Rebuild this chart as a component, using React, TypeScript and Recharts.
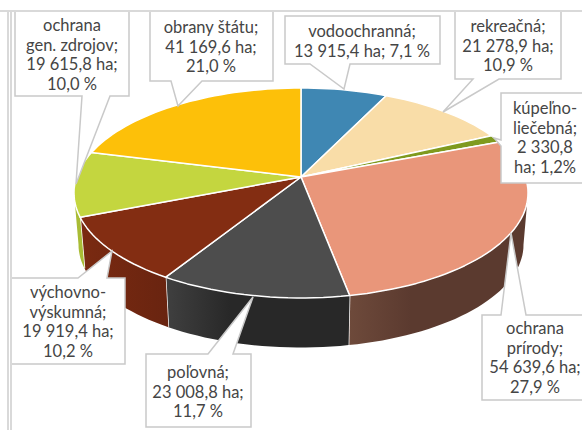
import { Pie, PieChart } from 'recharts';

const CATEGORIES = ['vodoochranná', 'rekreačná', 'kúpeľno-liečebná', 'ochrana prírody', 'poľovná', 'výchovno-výskumná', 'ochrana gen. zdrojov', 'obrany štátu'];
const AREAS_HA = [13915.4, 21278.9, 2330.8, 54639.6, 23008.8, 19919.4, 19615.8, 41169.6];

const LABEL_LINES = [
    ['vodoochranná;', '13 915,4 ha; 7,1 %'],
    ['rekreačná;', '21 278,9 ha;', '10,9 %'],
    ['kúpeľno-', 'liečebná;', '2 330,8', 'ha; 1,2%'],
    ['ochrana', 'prírody;', '54 639,6 ha;', '27,9 %'],
    ['poľovná;', '23 008,8 ha;', '11,7 %'],
    ['výchovno-', 'výskumná;', '19 919,4 ha;', '10,2 %'],
    ['ochrana', 'gen. zdrojov;', '19 615,8 ha;', '10,0 %'],
    ['obrany štátu;', '41 169,6 ha;', '21,0 %'],
];

const TOP_COLORS = ['#3F87B3', '#F9DDA8', '#7F9A1E', '#E9967A', '#4D4D4D', '#832D12', '#C4D63F', '#FDC009'];
const WALL_COLORS = [
    ['#2F6585', '#2F6585'],
    ['#B9A47C', '#B9A47C'],
    ['#5E7216', '#5E7216'],
    ['#6E4A3B', '#5B3A2F'],
    ['#404040', '#282828'],
    ['#7A2A11', '#692410'],
    ['#A9BC35', '#A9BC35'],
    ['#BD8F07', '#BD8F07'],
];

// callout boxes: x, y, w, h, text centre, first baseline, pointer base (2 points on box edge) and tip
const CALLOUTS = [
    { x: 285, y: 16, w: 155, h: 48, tx: 362, ty: 37, base: [350, 310], tip: [344, 89] },
    { x: 455, y: 11, w: 106, h: 68, tx: 508, ty: 32, base: [499, 473], tip: [443, 112] },
    { x: 501, y: 93, w: 90, h: 90, tx: 545, ty: 114, base: [], tip: [494, 138] },
    { x: 482, y: 315, w: 110, h: 85, tx: 535, ty: 334, base: [501, 526], tip: [511, 233] },
    { x: 146, y: 354, w: 105, h: 73, tx: 198, ty: 378, base: [208, 233], tip: [253, 297] },
    { x: 11, y: 278, w: 114, h: 86, tx: 68, ty: 298, base: [78, 107], tip: [112, 251] },
    { x: 15, y: 11, w: 114, h: 85, tx: 72, ty: 31, base: [110, 82], tip: [76, 184] },
    { x: 150, y: 11, w: 123, h: 70, tx: 211, ty: 33, base: [202, 171], tip: [178, 106] },
];

const pieData = CATEGORIES.map((name, i) => ({ name, value: AREAS_HA[i] }));

// perspective of the tilted disc
const TILT = 0.152;
const FLAT = 0.457;
const DEPTH = 52;
const RAD = Math.PI / 180;

const project = (cx: number, cy: number, r: number, angle: number, low = false) => {
    // recharts angle: 90 = top, decreasing clockwise
    const th = (90 - angle) * RAD;
    const w = 1 + TILT * Math.cos(th);
    const k = low ? 0.98 : 1;
    return {
        x: cx + (k * r * Math.sin(th)) / w,
        y: cy - (k * r * FLAT * Math.cos(th)) / w + (low ? DEPTH : 0),
    };
};

const steps = (a: number, b: number) => {
    const n = Math.max(2, Math.ceil(Math.abs(a - b) / 2));
    return Array.from({ length: n + 1 }, (_, i) => a + ((b - a) * i) / n);
};

const pts = (list: { x: number; y: number }[]) => list.map((p) => `${p.x.toFixed(1)},${p.y.toFixed(1)}`).join(' ');

const TopSlice = (props: any) => {
    const { cx, cy, outerRadius, startAngle, endAngle, index } = props;
    const rim = steps(startAngle, endAngle).map((a) => project(cx, cy, outerRadius, a));
    return <polygon points={pts([{ x: cx, y: cy }, ...rim])} fill={TOP_COLORS[index]} stroke="#fff" strokeWidth={1.5} strokeLinejoin="round" />;
};

// the wall only shows between the two tangent points of the rim
const TANGENT = Math.acos(-TILT) / RAD;

const WallSlice = (props: any) => {
    const { cx, cy, outerRadius, startAngle, endAngle, index } = props;
    const a = Math.max(90 - startAngle, TANGENT);
    const b = Math.min(90 - endAngle, 360 - TANGENT);
    if (a >= b) return <g />;
    const angles = steps(90 - a, 90 - b);
    const upper = angles.map((t) => project(cx, cy, outerRadius, t));
    const lower = angles.map((t) => project(cx, cy, outerRadius, t, true));
    const id = `wall-${index}`;
    const [from, to] = WALL_COLORS[index];
    const endsAtBoundary = 90 - endAngle < 360 - TANGENT;
    return (
        <g>
            <defs>
                <linearGradient id={id} x1={index > 4 ? 1 : 0} x2={index > 4 ? 0 : 1} y1={0} y2={0}>
                    <stop offset="0%" stopColor={index === 5 ? to : from} />
                    <stop offset={index === 5 ? '100%' : '35%'} stopColor={index === 5 ? from : to} />
                    <stop offset="100%" stopColor={index === 5 ? from : to} />
                </linearGradient>
            </defs>
            <polygon points={pts([...upper, ...lower.slice().reverse()])} fill={`url(#${id})`} />
            {endsAtBoundary && (
                <line x1={upper[upper.length - 1].x} y1={upper[upper.length - 1].y} x2={lower[lower.length - 1].x} y2={lower[lower.length - 1].y} stroke="#fff" strokeWidth={1.5} />
            )}
        </g>
    );
};

const Callout = (props: any) => {
    const { index } = props;
    const c = CALLOUTS[index];
    const right = c.x + c.w;
    const bottom = c.y + c.h;
    let outline: number[][];
    if (c.base.length === 0) {
        outline = [[c.x, c.y], [right, c.y], [right, bottom], [c.x, bottom], [c.x, c.y + 53], c.tip, [c.x, c.y + 47]];
    } else if (c.tip[1] > bottom) {
        outline = [[c.x, c.y], [right, c.y], [right, bottom], [c.base[0], bottom], c.tip, [c.base[1], bottom], [c.x, bottom]];
    } else {
        outline = [[c.x, c.y], [c.base[0], c.y], c.tip, [c.base[1], c.y], [right, c.y], [right, bottom], [c.x, bottom]];
    }
    return (
        <g>
            <polygon points={outline.map((p) => p.join(',')).join(' ')} fill="#fff" stroke="#C9C9C9" strokeWidth={1.5} />
            <text textAnchor="middle" fontFamily="Lato, sans-serif" fontSize={16.5} fill="#454545">
                {LABEL_LINES[index].map((line, i) => (
                    <tspan key={i} x={c.tx} y={c.ty + i * 19.5}>
                        {line}
                    </tspan>
                ))}
            </text>
        </g>
    );
};

export default function App() {
    return (
        <div style={{ position: 'absolute', left: 0, top: 0, width: 582, height: 430, overflow: 'hidden', background: '#fff' }}>
            <PieChart width={582} height={430} margin={{ top: 0, right: 0, bottom: 0, left: 0 }}>
                <Pie
                    data={pieData}
                    dataKey="value"
                    cx={301}
                    cy={177}
                    outerRadius={224.4}
                    startAngle={90}
                    endAngle={-270}
                    paddingAngle={0}
                    stroke="none"
                    shape={WallSlice}
                    isAnimationActive={false}
                />
                <Pie
                    data={pieData}
                    dataKey="value"
                    cx={301}
                    cy={177}
                    outerRadius={224.4}
                    startAngle={90}
                    endAngle={-270}
                    paddingAngle={0}
                    stroke="none"
                    shape={TopSlice}
                    label={Callout}
                    labelLine={false}
                    isAnimationActive={false}
                />
            </PieChart>
            <div style={{ position: 'absolute', left: 7, top: 10, width: 2, height: 420, background: '#D9D9D9' }} />
            <div style={{ position: 'absolute', left: 10, top: 10, width: 2, height: 420, background: '#D9D9D9' }} />
            <div style={{ position: 'absolute', left: 0, top: 10, width: 582, height: 2, background: '#D9D9D9' }} />
        </div>
    );
}
